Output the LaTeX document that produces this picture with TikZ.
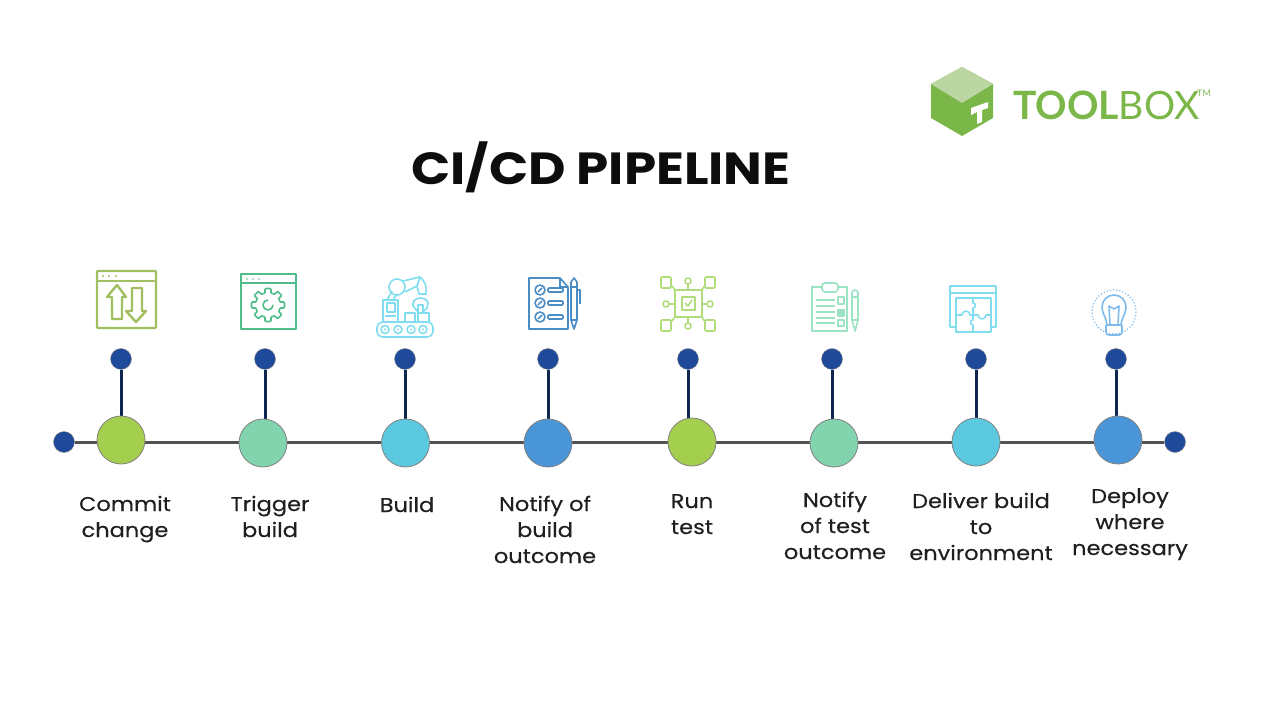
\documentclass[tikz,border=0pt]{standalone}
\usepackage{fontspec}
\setmainfont[FakeStretch=1.125,FakeBold=0.3]{Poppins}
\newfontfamily\titlefont[FakeStretch=1.145]{Poppins}
\newfontfamily\logofont{Lato}
\usepackage{xcolor}
\usetikzlibrary{backgrounds}
\definecolor{pinblue}{HTML}{1F4A9A}
\definecolor{stemnavy}{HTML}{0F2650}
\definecolor{lime}{HTML}{A4CE4E}
\definecolor{mint}{HTML}{82D4AE}
\definecolor{sky}{HTML}{5BCAE0}
\definecolor{azure}{HTML}{4A95D8}
\definecolor{logogreen}{HTML}{7AB648}
\definecolor{logopale}{HTML}{BBD5A3}
\definecolor{iconcommit}{HTML}{A0BF60}
\definecolor{icontrigger}{HTML}{50BC8A}
\definecolor{iconbuild}{HTML}{80DDEF}
\definecolor{iconnotify}{HTML}{4A8CC4}
\definecolor{iconrun}{HTML}{B0DC7C}
\definecolor{icontest}{HTML}{9BE3C2}
\definecolor{icondeploy}{HTML}{7DBBEC}
\tikzset{
  stage/.style={circle,draw=black!50,line width=0.8pt,minimum size=48,inner sep=0pt},
  pin/.style={circle,fill=pinblue,draw=black!45,line width=0.4pt,minimum size=21,inner sep=0pt},
  steplabel/.style={align=center,anchor=base,font=\fontsize{20}{26}\selectfont,text=black!88},
  stem/.style={stemnavy,line width=3pt},
  iconline/.style={line width=1.6pt,line join=round}
}
\begin{document}
\begin{tikzpicture}[x=1pt,y=-1pt]
\useasboundingbox (0,0) rectangle (1271,722);

% logo and title
\fill[logogreen] (962,67) -- (993,84) -- (993,118) -- (962,136) -- (931,118) -- (931,84) -- cycle;
\fill[logopale] (962,67) -- (993,84) -- (962,103) -- (931,84) -- cycle;
\fill[white] (971,108) -- (988,102) -- (988,108) -- (982,110) -- (982,122) -- (977,124) -- (977,112) -- (971,115) -- cycle;
\node[anchor=west,inner sep=0pt,text=logogreen,font=\fontsize{39}{39}\logofont] (logo) at (1013,105) {\textbf{TOOL}BOX};
\node[anchor=south west,inner sep=0pt,text=logogreen,font=\fontsize{9}{9}\logofont] (tm) at (1197,97) {TM};
\node[font=\fontsize{45}{45}\titlefont\bfseries,text=black!95] (title) at (601,167) {CI/CD PIPELINE};

% timeline
\node[pin] (start) at (64,442) {};
\node[pin] (end) at (1175,442) {};
\node[stage,fill=lime] (commit) at (121,440) {};
\node[stage,fill=mint] (trigger) at (263,443) {};
\node[stage,fill=sky] (build) at (405.5,443) {};
\node[stage,fill=azure] (notifyb) at (548,443) {};
\node[stage,fill=lime] (run) at (692,442) {};
\node[stage,fill=mint] (notifyt) at (834,443) {};
\node[stage,fill=sky] (deliver) at (976,442) {};
\node[stage,fill=azure] (deploy) at (1118,440) {};

\node[pin] (pcommit) at (121,359) {};
\node[pin] (ptrigger) at (265,359) {};
\node[pin] (pbuild) at (405,359) {};
\node[pin] (pnotifyb) at (548,359) {};
\node[pin] (prun) at (688,359) {};
\node[pin] (pnotifyt) at (832,359) {};
\node[pin] (pdeliver) at (976,359) {};
\node[pin] (pdeploy) at (1116,359) {};

\begin{scope}[on background layer]
\draw[black!68,line width=3pt] (start) -- (end);
\foreach \p/\s in {pcommit/commit,ptrigger/trigger,pbuild/build,pnotifyb/notifyb,prun/run,pnotifyt/notifyt,pdeliver/deliver,pdeploy/deploy}
  \draw[stem] (\p) -- (\p |- \s.north);
\end{scope}

% labels
\node[steplabel] (lcommit) at (125,537) {Commit\\change};
\node[steplabel] (ltrigger) at (270,537) {Trigger\\build};
\node[steplabel] (lbuild) at (407,512) {Build};
\node[steplabel] (lnotifyb) at (545,563) {Notify of\\build\\outcome};
\node[steplabel] (lrun) at (692,534) {Run\\test};
\node[steplabel] (lnotifyt) at (835,559) {Notify\\of test\\outcome};
\node[steplabel] (ldeliver) at (981,560) {Deliver build\\to\\environment};
\node[steplabel] (ldeploy) at (1130,555) {Deploy\\where\\necessary};

% commit icon
\begin{scope}[iconline,draw=iconcommit,line width=2.4pt]
\draw[rounded corners=1pt] (97,271) rectangle (156,328);
\draw (97,281) -- (156,281);
\foreach \x in {103,109,116} \fill[iconcommit] (\x,276) circle (1.1);
\draw (117,285) -- (126,297) -- (122,297) -- (122,319) -- (112,319) -- (112,297) -- (107,297) -- cycle;
\draw (132,288) -- (142,288) -- (142,311) -- (146,311) -- (136,322) -- (126,311) -- (132,311) -- cycle;
\end{scope}

% trigger icon
\begin{scope}[iconline,draw=icontrigger]
\draw (241,274) rectangle (296,329);
\draw (241,283) -- (296,283);
\foreach \x in {247,253,259} \fill[icontrigger] (\x,279) circle (0.9);
\draw (268,305) circle (12.5);
\foreach \a in {0,45,...,315} {
  \fill[white,rotate around={\a:(268,305)}] (265.3,290.5) rectangle (270.7,294);
  \draw[rotate around={\a:(268,305)},rounded corners=1pt] (265,293) -- (265,288.5) -- (271,288.5) -- (271,293);
}
\draw (273,305) arc (0:270:5);
\end{scope}

% build icon
\begin{scope}[iconline,draw=iconbuild]
\draw[rounded corners=6pt] (377,322) rectangle (433,337);
\foreach \x in {385,398,411,423} { \draw (\x,329.5) circle (4); \fill[iconbuild] (\x,329.5) circle (1.2); }
\draw (383,300) rectangle (398,322);
\draw (387,303) rectangle (395,312);
\draw (385,316) -- (396,316);
\draw (405,313) rectangle (415,322);
\draw (418,313) rectangle (429,322);
\draw (387,300) -- (392,291);
\draw (393,300) -- (397,294);
\draw (397,287) circle (8);
\draw (403,281) -- (420,277);
\draw (405,292) -- (417,286) -- (420,277) .. controls (425,281) and (427,287) .. (426,294) -- (419,294) -- (417,286);
\draw (413,306) .. controls (411,297) and (426,295) .. (428,303) -- (427,308) -- (423,312) -- (423,305) -- (418,305) -- (418,312) -- cycle;
\end{scope}

% notify of build icon
\begin{scope}[iconline,draw=iconnotify]
\draw (560,278) -- (529,278) -- (529,329) -- (568,329) -- (568,287) -- (560,278) -- (560,287) -- (568,287);
\foreach \y in {290,303,317} {
  \draw (540,\y) circle (5);
  \draw (538,\y+2) -- (542,\y-2);
  \draw[rounded corners=1pt] (548,\y-2) rectangle (563,\y+2);
}
\draw (571,282) -- (574,278) -- (577,282) -- (577,320) -- (574,329) -- (571,320) -- cycle;
\draw (571,287) -- (577,287);
\draw (571,320) -- (577,320);
\draw (577,290) -- (580,290) -- (580,304);
\end{scope}

% run test icon
\begin{scope}[iconline,draw=iconrun]
\draw (675,290) rectangle (702,317);
\draw (682,297) rectangle (695,310);
\draw (685,303) -- (688,306) -- (692,300);
\foreach \x/\y in {661/277,705/277,661/320,705/320} \draw[rounded corners=1pt] (\x,\y) rectangle ++(10,11);
\draw (671,285) -- (675,290);
\draw (705,285) -- (702,290);
\draw (671,322) -- (675,317);
\draw (705,322) -- (702,317);
\draw (688,281) circle (3);
\draw (688,326) circle (3);
\draw (666,304) circle (3);
\draw (710,304) circle (3);
\draw (688,284) -- (688,290);
\draw (688,317) -- (688,323);
\draw (669,304) -- (675,304);
\draw (702,304) -- (707,304);
\end{scope}

% notify of test icon
\begin{scope}[iconline,draw=icontest]
\draw (812,287) rectangle (847,331);
\draw[rounded corners=3pt,fill=white] (822,283) rectangle (838,292);
\foreach \y in {300,306,312,318,323} \draw (816,\y) -- (835,\y);
\draw (838,297) rectangle (844,304);
\draw[fill=icontest] (838,310) rectangle (844,316);
\draw (838,320) rectangle (844,326);
\draw (852,293) arc (180:360:3) -- (858,320) -- (855,331) -- (852,320) -- cycle;
\draw (852,297) -- (858,297);
\draw (852,320) -- (858,320);
\end{scope}

% deliver icon
\begin{scope}[iconline,draw=iconbuild]
\draw (950,286) rectangle (996,327);
\draw (950,293) -- (996,293);
\draw[fill=white] (956,298) rectangle (991,332);
\draw (973,298) -- (973,303) arc (-90:90:2.5) -- (973,315);
\draw (956,315) -- (962,315) arc (180:360:4) -- (978,315) arc (180:0:4) -- (991,315);
\draw (973,315) -- (973,320) arc (270:90:2.5) -- (973,332);
\end{scope}

% deploy icon
\begin{scope}[iconline,draw=icondeploy]
\draw[dotted,line width=1.2pt] (1114,312) circle (22);
\draw (1107,325) .. controls (1106,316) and (1102,314) .. (1102,307) arc (180:360:12) .. controls (1126,314) and (1122,316) .. (1121,325) -- cycle;
\draw[rounded corners=3pt] (1106,325) -- (1106,335) -- (1122,335) -- (1122,325);
\draw (1110,325) -- (1109,306) -- (1114,309) -- (1119,306) -- (1118,325);
\end{scope}
\end{tikzpicture}
\end{document}
